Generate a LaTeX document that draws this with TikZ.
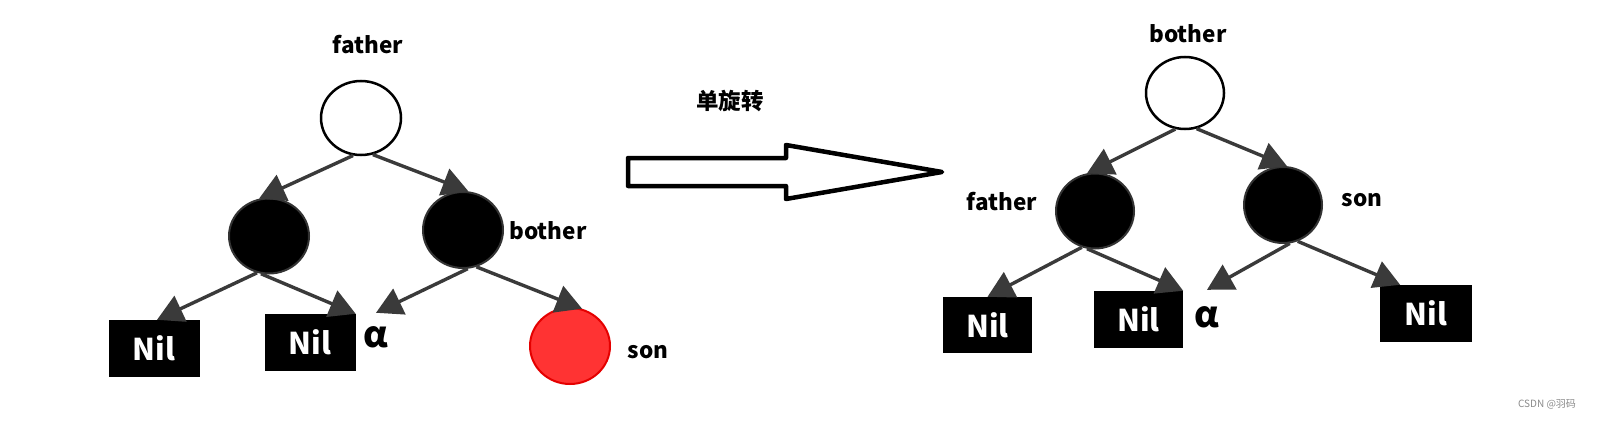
\documentclass[tikz,border=0pt]{standalone}
\usepackage{fontspec}
\setmainfont{Noto Sans CJK SC}
\usetikzlibrary{shapes.geometric,arrows.meta}
\definecolor{edgegray}{HTML}{3A3A3A}
\definecolor{nodered}{HTML}{FF3333}
\definecolor{wmgray}{HTML}{8A8A8A}
\tikzset{
  lbl/.style={font=\fontsize{22.5}{22.5}\selectfont\bfseries, inner sep=0pt},
  whitenode/.style={ellipse, draw=black, line width=2.5pt, fill=white, minimum width=80pt, minimum height=74pt, inner sep=0pt},
  blacknode/.style={ellipse, draw=black!80, line width=2pt, fill=black, minimum width=80pt, minimum height=75pt, inner sep=0pt},
  rednode/.style={ellipse, draw=red!90!black, line width=2pt, fill=nodered, minimum width=80pt, minimum height=76pt, inner sep=0pt},
  nilbox/.style={rectangle, fill=black, text=white, minimum width=91pt, minimum height=57pt, inner sep=0pt, font=\fontsize{30}{30}\selectfont\bfseries},
  alph/.style={font=\fontsize{36}{36}\selectfont\bfseries, inner sep=0pt, minimum height=48pt},
  edge/.style={draw=edgegray, line width=3.4pt, -{Triangle[length=26pt 0 0,width=28pt 0 0]}},
}
\begin{document}
\begin{tikzpicture}[x=1pt,y=-1pt]
\useasboundingbox[fill=white] (0,0) rectangle (1597,420);

% ---------- left tree ----------
\node[lbl] (lfather) at (368,45) {father};
\node[whitenode] (A) at (361,118) {};
\node[blacknode] (B) at (269,236) {};
\node[blacknode, minimum height=76pt] (C) at (463,230) {};
\node[lbl] (lbother) at (548,231) {bother};
\node[nilbox] (N1) at (154,348.5) {Nil};
\node[nilbox] (N2) at (310,342.5) {Nil};
\node[alph] (al1) at (376,337) {α};
\node[rednode] (R) at (570,346) {};
\node[lbl] (lson) at (648,352) {son};

\draw[edge] (A.258) -- (B.105);
\draw[edge] (A.288) -- (C.82);
\draw[edge] (B.252) -- (N1.84);
\draw[edge] (B.258) -- (N2.north east);
\draw[edge] (C.277) -- (al1.north);
\draw[edge] (C.290) -- (R.72);

% ---------- rotation arrow ----------
\node[lbl] (rot) at (730,101) {单旋转};
\draw[line width=4.5pt, line join=round] (628,158) -- (786,158) -- (786,145) -- (942,172) -- (786,199) -- (786,186) -- (628,186) -- cycle;

% ---------- right tree ----------
\node[lbl] (rbother) at (1188,34) {bother};
\node[whitenode, minimum width=78pt, minimum height=72pt] (A2) at (1185,93) {};
\node[blacknode, minimum width=78pt] (B2) at (1095,211) {};
\node[blacknode, minimum width=78pt, minimum height=76pt] (C2) at (1283,205) {};
\node[lbl] (rfather) at (1002,202) {father};
\node[lbl] (rson) at (1362,200) {son};
\node[nilbox, minimum width=89pt, minimum height=56pt] (M1) at (987.5,325) {Nil};
\node[nilbox, minimum width=89pt] (M2) at (1138.5,319.5) {Nil};
\node[alph, minimum height=54pt] (al2) at (1207,317) {α};
\node[nilbox, minimum width=92pt] (M3) at (1426,313.5) {Nil};

\draw[edge] (A2.255) -- (B2.102);
\draw[edge] (A2.288) -- (C2.84);
\draw[edge] (B2.250) -- (M1.north);
\draw[edge] (B2.258) -- (M2.north east);
\draw[edge] (C2.280) -- (al2.north);
\draw[edge] (C2.292) -- (M3.132);

% ---------- watermark ----------
\node[text=wmgray, font=\fontsize{10}{10}\selectfont, inner sep=0pt] (wm) at (1547,404) {CSDN @羽码};
\end{tikzpicture}
\end{document}
